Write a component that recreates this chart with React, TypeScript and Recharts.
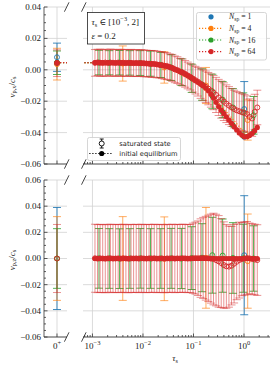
import type { ReactNode } from 'react';
import { CartesianGrid, ComposedChart, ErrorBar, Scatter, XAxis, YAxis } from 'recharts';

const SERIF = '"Liberation Serif", "DejaVu Serif", serif';
const SANS = '"DejaVu Sans", sans-serif';
const INK = '#222';
const SPINE = '#333';
const GRID = '#d2d2d2';

// tau_s sample points per run
const tau64 = [
    0.001122, 0.001262, 0.001419, 0.001596, 0.001795, 0.002018, 0.00227, 0.002553, 0.002871, 0.003228,
    0.003631, 0.004083, 0.004592, 0.005164, 0.005808, 0.006531, 0.007345, 0.00826, 0.00929, 0.01045,
    0.01175, 0.01321, 0.01486, 0.01671, 0.01879, 0.02113, 0.02377, 0.02673, 0.03006, 0.03381,
    0.03802, 0.04276, 0.04808, 0.05408, 0.06081, 0.06839, 0.07691, 0.0865, 0.09727, 0.1094,
    0.123, 0.1384, 0.1556, 0.175, 0.1968, 0.2213, 0.2489, 0.2799, 0.3148, 0.354,
    0.3981, 0.4477, 0.5035, 0.5662, 0.6368, 0.7161, 0.8054, 0.9057, 1.019, 1.146,
    1.288, 1.449, 1.629, 1.832,
];
const tau16 = [
    0.001346, 0.002153, 0.003443, 0.005508, 0.00881, 0.01409, 0.02254, 0.03606,
    0.05768, 0.09226, 0.1476, 0.236, 0.3776, 0.6039, 0.9661, 1.545,
];
const tau4 = [0.00398, 0.02642, 0.1766, 1.183];
const tau1 = [1.01];

// v_p,x / c_s : saturated state mean, error, initial equilibrium
const vx64 = [
    0.0044, 0.0047, 0.0045, 0.0043, 0.0046, 0.0044, 0.0046, 0.0045, 0.0043, 0.0046,
    0.0044, 0.0045, 0.0043, 0.0045, 0.0044, 0.0042, 0.0044, 0.0042, 0.0043, 0.0041,
    0.004, 0.0039, 0.0037, 0.0038, 0.0034, 0.0032, 0.003, 0.0025, 0.0023, 0.0017,
    0.0012, 0.0003, -0.0002, -0.0011, -0.0017, -0.0026, -0.0036, -0.0045, -0.0056, -0.0066,
    -0.0076, -0.0088, -0.0098, -0.0108, -0.012, -0.0132, -0.0145, -0.016, -0.0176, -0.019,
    -0.0203, -0.0216, -0.0228, -0.024, -0.025, -0.0258, -0.0264, -0.027, -0.0275, -0.0282,
    -0.03, -0.031, -0.0268, -0.024,
];
const ex64 = [
    0.0085, 0.0084, 0.0086, 0.0085, 0.0085, 0.0084, 0.0086, 0.0085, 0.0085, 0.0084,
    0.0086, 0.0085, 0.0085, 0.0084, 0.0086, 0.0085, 0.0085, 0.0084, 0.0086, 0.0085,
    0.0085, 0.0084, 0.0086, 0.0085, 0.0085, 0.0084, 0.0086, 0.0085, 0.0085, 0.0084,
    0.0086, 0.0085, 0.0085, 0.0084, 0.0086, 0.0085, 0.0085, 0.0084, 0.0086, 0.0088,
    0.0091, 0.0094, 0.0097, 0.01, 0.0103, 0.0106, 0.0109, 0.0112, 0.0115, 0.0118,
    0.012, 0.012, 0.0121, 0.0121, 0.012, 0.012, 0.0119, 0.0118, 0.0117, 0.0116,
    0.0115, 0.0114, 0.0112, 0.011,
];
const vx64Init = [
    0.0046, 0.0046, 0.0046, 0.0046, 0.0045, 0.0045, 0.0045, 0.0045, 0.0045, 0.0045,
    0.0045, 0.0044, 0.0044, 0.0044, 0.0044, 0.0043, 0.0043, 0.0043, 0.0042, 0.0042,
    0.0041, 0.0039, 0.0038, 0.0037, 0.0035, 0.0032, 0.0029, 0.0026, 0.0023, 0.0018,
    0.0011, 0.0004, -0.0003, -0.001, -0.0018, -0.0027, -0.0037, -0.0047, -0.0058, -0.0069,
    -0.008, -0.0091, -0.0103, -0.0116, -0.0134, -0.0156, -0.018, -0.0207, -0.0234, -0.0257,
    -0.0278, -0.0299, -0.032, -0.0341, -0.0362, -0.0383, -0.0402, -0.0416, -0.0427, -0.0426,
    -0.0418, -0.0405, -0.0388, -0.0367,
];
const vx16 = [
    0.0046, 0.0045, 0.0045, 0.0044, 0.0043, 0.0039, 0.0031, 0.0014,
    -0.0015, -0.0054, -0.0094, -0.0138, -0.019, -0.024, -0.0272, -0.029,
];
const ex16 = [
    0.0078, 0.0077, 0.0078, 0.0078, 0.0079, 0.008, 0.008, 0.0082,
    0.0085, 0.009, 0.01, 0.011, 0.0115, 0.012, 0.0125, 0.012,
];
const vx16Init = [
    0.0046, 0.0045, 0.0045, 0.0044, 0.0043, 0.0039, 0.0031, 0.0015,
    -0.0014, -0.0053, -0.0095, -0.0169, -0.0268, -0.0353, -0.0422, -0.0396,
];
const vx4 = [0.004, 0.0015, -0.01, -0.032];
const ex4 = [0.0112, 0.01, 0.0115, 0.0128];
const vx4Init = [0.0044, 0.0026, -0.0117, -0.0424];
const vx1 = [-0.025];
const ex1 = [0.0175];
const vx1Init = [-0.0428];

// v_p,z / c_s
const vz64 = [
    0.0002, -0.0001, 0.0001, 0.0, -0.0002, 0.0001, 0.0002, -0.0001, 0.0, 0.0001,
    -0.0001, 0.0002, 0.0, -0.0002, 0.0001, 0.0, 0.0001, -0.0001, 0.0002, 0.0,
    -0.0001, 0.0001, 0.0, 0.0002, -0.0001, 0.0, 0.0001, -0.0002, 0.0001, 0.0,
    0.0002, -0.0001, 0.0001, 0.0, 0.0002, 0.0001, -0.0001, 0.0, 0.0002, 0.0003,
    0.0002, 0.0003, 0.0004, 0.0002, 0.0001, -0.0001, -0.0004, -0.0012, -0.0022, -0.0035,
    -0.005, -0.006, -0.0062, -0.0055, -0.004, -0.0025, -0.0012, -0.0005, 0.0, 0.0003,
    0.0001, -0.0004, -0.0008, -0.0012,
];
const ez64 = [
    0.026, 0.026, 0.026, 0.026, 0.026, 0.026, 0.026, 0.026, 0.026, 0.026,
    0.026, 0.026, 0.026, 0.026, 0.026, 0.026, 0.026, 0.026, 0.026, 0.026,
    0.026, 0.026, 0.026, 0.026, 0.026, 0.026, 0.026, 0.026, 0.026, 0.026,
    0.026, 0.026, 0.026, 0.026, 0.026, 0.026, 0.026, 0.026, 0.0268, 0.0275,
    0.0285, 0.03, 0.031, 0.032, 0.033, 0.034, 0.035, 0.035, 0.035, 0.034,
    0.033, 0.032, 0.031, 0.03, 0.03, 0.029, 0.029, 0.028, 0.028, 0.028,
    0.027, 0.027, 0.027, 0.027,
];
const vz64Init = [
    0, 0, 0, 0, 0, 0, 0, 0, 0, 0, 0, 0, 0, 0, 0, 0, 0, 0, 0, 0, 0, 0, 0, 0, 0, 0, 0, 0, 0, 0, 0, 0,
    0, 0, 0, 0, 0, 0, 0, 0, 0, 0, 0, 0, 0, 0, 0, 0, 0, 0, 0, 0, 0, 0, 0, 0, 0, 0, 0, 0, 0, 0, 0, 0,
];
const vz16 = [
    0.0001, 0.0, -0.0001, 0.0, 0.0001, 0.0, 0.0, 0.0001,
    0.0, 0.0003, 0.0006, 0.0025, 0.0022, 0.0004, 0.0002, 0.0,
];
const ez16 = [
    0.0228, 0.0228, 0.0228, 0.0228, 0.0228, 0.0228, 0.0228, 0.0229,
    0.023, 0.024, 0.026, 0.029, 0.028, 0.027, 0.026, 0.025,
];
const vz16Init = [0, 0, 0, 0, 0, 0, 0, 0, 0, 0, 0, 0, 0, 0, 0, 0];
const vz4 = [0.0, -0.0002, 0.0005, -0.002];
const ez4 = [0.032, 0.032, 0.0385, 0.036];
const vz4Init = [0, 0, 0, 0];
const vz1 = [0.0025];
const ez1 = [0.0455];
const vz1Init = [0];

// tau_s = 0+ column, order N_sp = 1, 4, 16, 64
const vx0 = [0.008, 0.0036, 0.0045, 0.0042];
const ex0 = [0.009, 0.0101, 0.0075, 0.0085];
const vx0Init = [0.0046, 0.0046, 0.0046, 0.0046];
const vz0 = [0, 0, 0, 0];
const ez0 = [0.039, 0.032, 0.0228, 0.026];

const LOG_MAJOR = [0.001, 0.01, 0.1, 1];
const VX_MAJOR = [-0.06, -0.04, -0.02, 0, 0.02, 0.04];
const VZ_MAJOR = [-0.06, -0.04, -0.02, 0, 0.02, 0.04, 0.06];

const X_DOMAIN: [number, number] = [6.5e-4, 3.27];
const ZERO_DOMAIN: [number, number] = [-1, 0.77];
const VX_DOMAIN: [number, number] = [-0.06, 0.04];
const VZ_DOMAIN: [number, number] = [-0.06, 0.06];

const linTicks = (lo: number, hi: number) => {
    const out: number[] = [];
    for (let v = lo; v <= hi + 1e-9; v += 0.005) out.push(+v.toFixed(4));
    return out;
};
const logTicks = () => {
    const out: number[] = [];
    [1e-4, 1e-3, 1e-2, 1e-1, 1].forEach((d) => {
        for (let m = 1; m < 10; m++) {
            const v = +(m * d).toPrecision(3);
            if (v >= X_DOMAIN[0] && v <= X_DOMAIN[1]) out.push(v);
        }
    });
    return out;
};
const VX_TICKS = linTicks(-0.06, 0.04);
const VZ_TICKS = linTicks(-0.06, 0.06);
const X_TICKS = logTicks();

const SERIES = [
    { n: 1, color: '#1f77b4', bar: 'rgba(31,119,180,0.85)', line: false, tau: tau1,
      vx: vx1, ex: ex1, vxi: vx1Init, vz: vz1, ez: ez1, vzi: vz1Init },
    { n: 4, color: '#ff7f0e', bar: 'rgba(255,127,14,0.65)', line: true, tau: tau4,
      vx: vx4, ex: ex4, vxi: vx4Init, vz: vz4, ez: ez4, vzi: vz4Init },
    { n: 16, color: '#2ca02c', bar: 'rgba(44,160,44,0.8)', line: true, tau: tau16,
      vx: vx16, ex: ex16, vxi: vx16Init, vz: vz16, ez: ez16, vzi: vz16Init },
    { n: 64, color: '#d62728', bar: 'rgba(214,39,40,0.5)', line: true, tau: tau64,
      vx: vx64, ex: ex64, vxi: vx64Init, vz: vz64, ez: ez64, vzi: vz64Init },
];

type Row = { x: number; y: number; e: number; anchor?: boolean };
const rows = (xs: number[], ys: number[], es?: number[]): Row[] =>
    xs.map((x, i) => ({ x, y: ys[i], e: es ? es[i] : 0 }));

const near = (a: number, b: number) => Math.abs(a - b) <= 1e-9 + 1e-6 * Math.abs(b);
const fmtY = (v: number) => (v < -1e-9 ? '\u2212' : '') + Math.abs(v).toFixed(2);

type Side = 'left' | 'right' | 'top' | 'bottom';
const tickMark = (side: Side, majors: number[], label?: (v: number) => ReactNode) => (p: any) => {
    const v = p.payload.value as number;
    const major = majors.some((m) => near(v, m));
    const len = major ? 3.5 : 2;
    const dx = side === 'left' ? len : side === 'right' ? -len : 0;
    const dy = side === 'top' ? len : side === 'bottom' ? -len : 0;
    return (
        <g>
            <line x1={p.x} y1={p.y} x2={p.x + dx} y2={p.y + dy} stroke={SPINE} strokeWidth={0.8} />
            {major && label && side === 'left' ? (
                <text x={p.x - 3} y={p.y} dy="0.33em" textAnchor="end" fontFamily={SERIF} fontSize={9} fill={INK}>
                    {label(v)}
                </text>
            ) : null}
            {major && label && side === 'bottom' ? (
                <text x={p.x} y={p.y + 11.5} textAnchor="middle" fontFamily={SERIF} fontSize={9} fill={INK}>
                    {label(v)}
                </text>
            ) : null}
        </g>
    );
};

const logLabel = (v: number) => {
    const k = Math.round(Math.log10(v));
    return (
        <>
            10<tspan dy={-4} fontSize={6.5}>{k < 0 ? `\u2212${-k}` : `${k}`}</tspan>
        </>
    );
};
const zeroLabel = () => (
    <>
        0<tspan dy={-4} fontSize={6.5}>+</tspan>
    </>
);

const hollow = (color: string) => (p: any) =>
    p.payload?.anchor ? <g /> : <circle cx={p.cx} cy={p.cy} r={2.5} fill="none" stroke={color} strokeWidth={0.9} />;
const filled = (color: string) => (p: any) =>
    p.payload?.anchor ? <g /> : <circle cx={p.cx} cy={p.cy} r={2.6} fill={color} />;

const dotted = (color: string) => ({ stroke: color, strokeWidth: 1.2, strokeDasharray: '1.2 1.8' });

const yLabel = (comp: string) => () => (
    <text transform="rotate(-90 14.5 87)" x={14.5} y={87} textAnchor="middle" fontFamily={SERIF} fontSize={9} fill={INK}>
        <tspan fontStyle="italic">v</tspan>
        <tspan fontSize={6.3} dy={1.8}>{`p,${comp}`}</tspan>
        <tspan dy={-1.8}>/</tspan>
        <tspan fontStyle="italic">c</tspan>
        <tspan fontSize={6.3} dy={1.8}>s</tspan>
    </text>
);

const xLabel = () => (
    <text x={95} y={188} textAnchor="middle" fontFamily={SERIF} fontSize={9} fill={INK}>
        <tspan fontStyle="italic">τ</tspan>
        <tspan fontSize={6.3} dy={1.8}>s</tspan>
    </text>
);

const marks = (panel: 'x' | 'z', part: 'zero' | 'tau') =>
    SERIES.flatMap((s, k) => {
        const zero = part === 'zero';
        const v = panel === 'x' ? s.vx : s.vz;
        const e = panel === 'x' ? s.ex : s.ez;
        const vi = panel === 'x' ? s.vxi : s.vzi;
        const sat: Row[] = zero
            ? [{ x: 0, y: panel === 'x' ? vx0[k] : vz0[k], e: panel === 'x' ? ex0[k] : ez0[k] }]
            : rows(s.tau, v, e);
        let init: Row[] | null = null;
        if (panel === 'x') {
            init = zero
                ? [{ x: 0, y: vx0Init[k], e: 0 }, ...(s.line ? [{ x: 2, y: vi[0], e: 0, anchor: true }] : [])]
                : [...(s.line ? [{ x: 1e-5, y: vx0Init[k], e: 0, anchor: true }] : []), ...rows(s.tau, vi)];
        } else if (!zero) {
            init = rows(s.tau, vi);
        }
        const out = [
            <Scatter
                key={`sat-${s.n}`}
                data={sat}
                xAxisId="b"
                yAxisId="l"
                dataKey="y"
                shape={hollow(s.color)}
                isAnimationActive={false}
            >
                <ErrorBar dataKey="e" direction="y" width={4} stroke={s.bar} strokeWidth={1} />
            </Scatter>,
        ];
        if (init) {
            out.push(
                <Scatter
                    key={`init-${s.n}`}
                    data={init}
                    xAxisId="b"
                    yAxisId="l"
                    dataKey="y"
                    shape={filled(s.color)}
                    line={s.line ? dotted(s.color) : false}
                    lineType="joint"
                    isAnimationActive={false}
                />,
            );
        }
        return out;
    });

// legend boxes, drawn in page coordinates
const LegendBoxes = () => (
    <g>
        <rect x={87.5} y={137.5} width={93} height={23} rx={2} fill="#fff" fillOpacity={0.85} stroke="#ccc" strokeWidth={0.8} />
        <line x1={101.7} x2={101.7} y1={139} y2={148} stroke="#000" strokeWidth={0.9} />
        <line x1={99.7} x2={103.7} y1={139} y2={139} stroke="#000" strokeWidth={0.9} />
        <line x1={99.7} x2={103.7} y1={148} y2={148} stroke="#000" strokeWidth={0.9} />
        <circle cx={101.7} cy={143.5} r={2.5} fill="#fff" stroke="#000" strokeWidth={0.9} />
        <text x={119.3} y={145.8} fontFamily={SANS} fontSize={6.7} fill="#222">saturated state</text>
        <line x1={89.3} x2={113.3} y1={153.5} y2={153.5} {...dotted('#000')} />
        <circle cx={101.7} cy={153.5} r={2.6} fill="#000" />
        <text x={119.3} y={155.8} fontFamily={SANS} fontSize={6.7} fill="#222">initial equilibrium</text>

        <rect x={196.5} y={12.5} width={70} height={47.5} rx={2} fill="#fff" fillOpacity={0.85} stroke="#ccc" strokeWidth={0.8} />
        {SERIES.map((s, i) => {
            const y = 16.8 + i * 11.6;
            return (
                <g key={s.n}>
                    {s.line ? <line x1={199} x2={223} y1={y} y2={y} {...dotted(s.color)} /> : null}
                    <circle cx={211} cy={y} r={2.6} fill={s.color} />
                    <text x={229} y={y + 2.6} fontFamily={SERIF} fontSize={7.8} fill="#222">
                        <tspan fontStyle="italic">N</tspan>
                        <tspan fontSize={5.6} dy={1.6}>sp</tspan>
                        <tspan dy={-1.6}>{` = ${s.n}`}</tspan>
                    </text>
                </g>
            );
        })}
    </g>
);

const ZeroPanel = ({ panel }: { panel: 'x' | 'z' }) => {
    const isX = panel === 'x';
    const majors = isX ? VX_MAJOR : VZ_MAJOR;
    return (
        <ComposedChart width={70} height={isX ? 173 : 192} margin={{ top: 7, right: 3, bottom: 0, left: 0 }}>
            <CartesianGrid xAxisId="b" yAxisId="l" stroke={GRID} strokeWidth={0.8} horizontalValues={majors} verticalValues={[0]} />
            <XAxis
                xAxisId="b"
                dataKey="x"
                type="number"
                domain={ZERO_DOMAIN}
                allowDataOverflow
                ticks={[0]}
                interval={0}
                height={isX ? 9 : 28}
                tickSize={0}
                tickMargin={0}
                tickLine={false}
                axisLine={{ stroke: SPINE, strokeWidth: 0.8 }}
                tick={tickMark('bottom', [0], isX ? undefined : zeroLabel)}
            />
            <XAxis
                xAxisId="t"
                orientation="top"
                type="number"
                domain={ZERO_DOMAIN}
                allowDataOverflow
                ticks={[0]}
                interval={0}
                height={0}
                tickSize={0}
                tickMargin={0}
                tickLine={false}
                axisLine={{ stroke: SPINE, strokeWidth: 0.8 }}
                tick={tickMark('top', [0])}
            />
            <YAxis
                yAxisId="l"
                dataKey="y"
                type="number"
                width={44}
                domain={isX ? VX_DOMAIN : VZ_DOMAIN}
                allowDataOverflow
                ticks={isX ? VX_TICKS : VZ_TICKS}
                interval={0}
                tickSize={0}
                tickMargin={0}
                tickLine={false}
                axisLine={{ stroke: SPINE, strokeWidth: 0.8 }}
                tick={tickMark('left', majors, fmtY)}
                label={{ content: yLabel(panel) }}
            />
            {marks(panel, 'zero')}
        </ComposedChart>
    );
};

const TauPanel = ({ panel }: { panel: 'x' | 'z' }) => {
    const isX = panel === 'x';
    const majors = isX ? VX_MAJOR : VZ_MAJOR;
    return (
        <ComposedChart width={194} height={isX ? 173 : 192} margin={{ top: 7, right: 4, bottom: 0, left: 3 }}>
            <CartesianGrid xAxisId="b" yAxisId="l" stroke={GRID} strokeWidth={0.8} horizontalValues={majors} verticalValues={LOG_MAJOR} />
            <XAxis
                xAxisId="b"
                dataKey="x"
                type="number"
                scale="log"
                domain={X_DOMAIN}
                allowDataOverflow
                ticks={X_TICKS}
                interval={0}
                height={isX ? 9 : 28}
                tickSize={0}
                tickMargin={0}
                tickLine={false}
                axisLine={{ stroke: SPINE, strokeWidth: 0.8 }}
                tick={tickMark('bottom', LOG_MAJOR, isX ? undefined : logLabel)}
                label={isX ? undefined : { content: xLabel }}
            />
            <XAxis
                xAxisId="t"
                orientation="top"
                type="number"
                scale="log"
                domain={X_DOMAIN}
                allowDataOverflow
                ticks={X_TICKS}
                interval={0}
                height={0}
                tickSize={0}
                tickMargin={0}
                tickLine={false}
                axisLine={{ stroke: SPINE, strokeWidth: 0.8 }}
                tick={tickMark('top', LOG_MAJOR)}
            />
            <YAxis yAxisId="l" dataKey="y" type="number" hide domain={isX ? VX_DOMAIN : VZ_DOMAIN} allowDataOverflow />
            <YAxis
                yAxisId="r"
                orientation="right"
                type="number"
                width={0}
                domain={isX ? VX_DOMAIN : VZ_DOMAIN}
                allowDataOverflow
                ticks={isX ? VX_TICKS : VZ_TICKS}
                interval={0}
                tickSize={0}
                tickMargin={0}
                tickLine={false}
                axisLine={{ stroke: SPINE, strokeWidth: 0.8 }}
                tick={tickMark('right', majors)}
            />
            {marks(panel, 'tau')}
        </ComposedChart>
    );
};

const BREAKS = [
    [66.7, 7], [83.8, 7], [66.7, 164], [83.8, 164],
    [66.7, 180], [83.8, 180], [66.7, 337], [83.8, 337],
];

const App = () => (
    <div style={{ position: 'absolute', left: 0, top: 0, width: 274, height: 365, background: '#fff' }}>
        <div style={{ position: 'absolute', left: 0, top: 0 }}>
            <ZeroPanel panel="x" />
        </div>
        <div style={{ position: 'absolute', left: 80, top: 0 }}>
            <TauPanel panel="x" />
        </div>
        <div style={{ position: 'absolute', left: 0, top: 173 }}>
            <ZeroPanel panel="z" />
        </div>
        <div style={{ position: 'absolute', left: 80, top: 173 }}>
            <TauPanel panel="z" />
        </div>
        <svg width={274} height={365} style={{ position: 'absolute', left: 0, top: 0, pointerEvents: 'none' }}>
            {BREAKS.map(([x, y], i) => (
                <line key={i} x1={x - 2.3} y1={y + 4.7} x2={x + 2.3} y2={y - 4.7} stroke={SPINE} strokeWidth={0.9} />
            ))}
            <rect x={87.5} y={12.5} width={57} height={31.5} fill="#fff" stroke={INK} strokeWidth={0.8} />
            <text x={91.5} y={25} fontFamily={SERIF} fontSize={9} fill={INK}>
                <tspan fontStyle="italic">τ</tspan>
                <tspan fontSize={6.3} dy={1.8}>s</tspan>
                <tspan dy={-1.8}>{' \u2208 [10'}</tspan>
                <tspan fontSize={6.3} dy={-3.8}>{'\u22123'}</tspan>
                <tspan dy={3.8}>{', 2]'}</tspan>
            </text>
            <text x={91.5} y={39} fontFamily={SERIF} fontSize={9} fill={INK}>
                <tspan fontStyle="italic">ε</tspan>
                <tspan>{' = 0.2'}</tspan>
            </text>
            <LegendBoxes />
        </svg>
    </div>
);

export default App;
